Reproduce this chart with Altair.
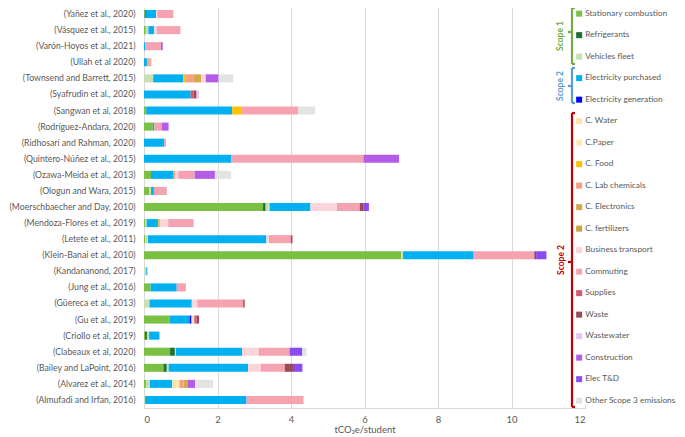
import altair as alt
import pandas as pd

FONT = "Lato, sans-serif"
TXT = "#595959"

studies = [
    "(Yañez et al., 2020)", "(Vásquez et al., 2015)", "(Varón-Hoyos et al., 2021)",
    "(Ullah et al 2020)", "(Townsend and Barrett, 2015)", "(Syafrudin et al., 2020)",
    "(Sangwan et al, 2018)", "(Rodríguez-Andara, 2020)", "(Ridhosari and Rahman, 2020)",
    "(Quintero-Núñez et al., 2015)", "(Ozawa-Meida et al., 2013)", "(Ologun and Wara, 2015)",
    "(Moerschbaecher and Day, 2010)", "(Mendoza-Flores et al., 2019)", "(Letete et al., 2011)",
    "(Klein-Banai et al., 2010)", "(Kandananond, 2017)", "(Jung et al., 2016)",
    "(Güereca et al., 2013)", "(Gu et al., 2019)", "(Criollo et al, 2019)",
    "(Clabeaux et al, 2020)", "(Bailey and LaPoint, 2016)", "(Alvarez et al., 2014)",
    "(Almufadi and Irfan, 2016)",
]

categories = [
    "Stationary combustion", "Refrigerants", "Vehicles fleet",
    "Electricity purchased", "Electricity generation",
    "C. Water", "C.Paper", "C. Food", "C. Lab chemicals", "C. Electronics",
    "C. fertilizers", "Business transport", "Commuting", "Supplies", "Waste",
    "Wastewater", "Construction", "Elec T&D", "Other Scope 3 emissions",
]

colors = [
    "#7ac143", "#1f6e34", "#c6e0b4", "#00b0f0", "#0000ff",
    "#fde3a7", "#fee8b4", "#ffc000", "#f4a07e", "#d4a84c",
    "#c9a23f", "#fbd5da", "#f5a3b0", "#d4586e", "#9b4a5a",
    "#e5c5f7", "#b35ce8", "#8b4bf2", "#e3e3e3",
]

# values per category, in the order of `studies`
stationary     = [0.02, 0.05, 0, 0, 0, 0, 0.06, 0.24, 0, 0, 0.19, 0.15, 3.24, 0.03, 0.03, 7.0, 0, 0.18, 0, 0.70, 0.03, 0.71, 0.53, 0.06, 0]
refrigerants   = [0.03, 0, 0, 0, 0, 0, 0, 0, 0, 0, 0, 0, 0.07, 0, 0, 0, 0, 0, 0, 0, 0.05, 0.13, 0.09, 0, 0]
vehicles       = [0, 0.07, 0, 0, 0.25, 0, 0, 0, 0, 0, 0, 0.04, 0.11, 0.04, 0.08, 0.05, 0.06, 0, 0.15, 0, 0.06, 0.03, 0.05, 0.10, 0.03]
elec_purchased = [0.28, 0.16, 0.03, 0.08, 0.82, 1.27, 2.34, 0.04, 0.55, 2.37, 0.60, 0.08, 1.11, 0.32, 3.22, 1.92, 0.03, 0.71, 1.15, 0.54, 0.28, 1.80, 2.16, 0.61, 2.76]
elec_generated = [0, 0, 0, 0, 0, 0, 0, 0, 0, 0, 0, 0, 0, 0, 0, 0, 0, 0, 0, 0.05, 0, 0, 0, 0, 0]
c_water        = [0, 0, 0, 0, 0, 0, 0, 0, 0, 0, 0, 0, 0, 0, 0, 0, 0, 0, 0, 0, 0, 0, 0, 0.10, 0]
c_paper        = [0, 0, 0, 0, 0, 0, 0, 0, 0, 0, 0, 0, 0, 0, 0, 0, 0, 0, 0, 0, 0, 0, 0, 0.09, 0]
c_food         = [0, 0, 0, 0.03, 0.05, 0, 0.26, 0, 0, 0, 0, 0, 0, 0.05, 0, 0, 0, 0, 0, 0.03, 0, 0, 0, 0, 0]
c_lab          = [0, 0, 0, 0.03, 0.23, 0, 0, 0, 0, 0, 0.06, 0, 0, 0, 0, 0, 0, 0, 0, 0, 0, 0, 0, 0.12, 0]
c_electronics  = [0, 0, 0, 0, 0.21, 0, 0, 0, 0, 0, 0, 0, 0, 0, 0, 0, 0, 0, 0, 0, 0, 0, 0, 0.11, 0]
c_fertilizers  = [0, 0, 0, 0, 0, 0, 0, 0, 0, 0, 0, 0, 0, 0, 0, 0, 0, 0, 0, 0, 0, 0, 0, 0, 0]
business       = [0.03, 0.06, 0, 0, 0.12, 0, 0, 0, 0, 0, 0.08, 0, 0.72, 0.22, 0.07, 0, 0, 0, 0.15, 0.05, 0, 0.45, 0.35, 0, 0]
commuting      = [0.44, 0.65, 0.43, 0.06, 0, 0, 1.53, 0.20, 0.05, 3.60, 0.45, 0.35, 0.62, 0.69, 0.60, 1.65, 0, 0.25, 1.25, 0, 0, 0.84, 0.65, 0, 1.55]
supplies       = [0, 0, 0, 0, 0, 0.08, 0, 0, 0, 0, 0, 0, 0, 0, 0, 0, 0, 0, 0, 0.06, 0, 0, 0, 0, 0]
waste          = [0, 0, 0, 0, 0, 0.08, 0, 0, 0, 0, 0, 0, 0.11, 0, 0.04, 0.05, 0, 0, 0.04, 0.07, 0, 0, 0.25, 0, 0]
wastewater     = [0, 0, 0, 0, 0, 0.06, 0, 0, 0, 0, 0, 0, 0, 0, 0, 0, 0, 0, 0, 0, 0, 0, 0, 0, 0]
construction   = [0, 0, 0.05, 0, 0.35, 0, 0, 0.19, 0, 0.97, 0.55, 0, 0, 0, 0, 0, 0, 0, 0, 0, 0, 0, 0, 0.20, 0]
elec_td        = [0, 0, 0, 0, 0, 0, 0, 0, 0, 0, 0, 0, 0.14, 0, 0, 0.28, 0, 0, 0, 0, 0, 0.35, 0.23, 0, 0]
other_s3       = [0, 0, 0, 0, 0.40, 0, 0.47, 0, 0, 0, 0.44, 0, 0, 0, 0, 0, 0, 0, 0, 0, 0, 0.11, 0, 0.49, 0]

series = [stationary, refrigerants, vehicles, elec_purchased, elec_generated,
          c_water, c_paper, c_food, c_lab, c_electronics, c_fertilizers,
          business, commuting, supplies, waste, wastewater, construction,
          elec_td, other_s3]

rows = []
for ci, (cat, vals) in enumerate(zip(categories, series)):
    for s, v in zip(studies, vals):
        if v > 0:
            rows.append({"study": s, "category": cat, "value": v, "order": ci})
df = pd.DataFrame(rows)

bars = alt.Chart(df).mark_bar().encode(
    x=alt.X("value:Q", stack="zero",
            scale=alt.Scale(domain=[0, 12], nice=False),
            axis=alt.Axis(values=[0, 2, 4, 6, 8, 10, 12], title="tCO₂e/student",
                          grid=True, gridColor="#d9d9d9", ticks=False,
                          domainColor="#d9d9d9", labelColor=TXT, labelFont=FONT,
                          labelFontSize=9.5, labelPadding=6,
                          titleFont=FONT, titleFontSize=9.5, titleColor=TXT,
                          titleFontWeight="normal", titlePadding=1,
                          titleAnchor="middle")),
    y=alt.Y("study:N", sort=studies,
            scale=alt.Scale(paddingInner=0.5, paddingOuter=0.25),
            axis=alt.Axis(title=None, ticks=False, domain=False, grid=False,
                          labelColor=TXT, labelFont=FONT, labelFontSize=8.7,
                          labelPadding=9, labelLimit=200)),
    color=alt.Color("category:N",
                    scale=alt.Scale(domain=categories, range=colors),
                    legend=alt.Legend(title=None, orient="none", legendX=431, legendY=3.5,
                                      direction="vertical", symbolType="square",
                                      symbolSize=36, symbolStrokeWidth=0,
                                      labelFont=FONT, labelFontSize=8.3,
                                      labelColor=TXT, labelOffset=2,
                                      rowPadding=12.5, padding=0, fillColor="white",
                                      labelLimit=200)),
    order=alt.Order("order:Q", sort="ascending"),
)

one = pd.DataFrame({"k": [0]})


def seg(x, x2, y, y2, color, w=2.2):
    return alt.Chart(one).mark_rule(color=color, strokeWidth=w).encode(
        x=alt.value(x), x2=alt.value(x2), y=alt.value(y), y2=alt.value(y2))


def bracket(x, top, bottom, mid, color):
    return [
        seg(x, x, top, bottom, color),
        seg(x, x + 3, top, top, color),
        seg(x, x + 3, bottom, bottom, color),
        seg(x - 4, x, mid, mid, color),
    ]


def label(text, x, y, color):
    return alt.Chart(one).mark_text(
        text=text, angle=270, font=FONT, fontSize=8.5, fontWeight="bold",
        color=color, align="center", baseline="middle").encode(
        x=alt.value(x), y=alt.value(y))


green, blue, red = "#70ad47", "#5b9bd5", "#c00000"
layers = [bars]
layers += bracket(428, 2, 58, 26, green)
layers += bracket(428, 62, 97, 80, blue)
layers += bracket(428, 107, 401, 256, red)
layers += [label("Scope 1", 416, 30, green),
           label("Scope 2", 416, 80, blue),
           label("Scope 2", 417, 254, red)]

chart = alt.layer(*layers).properties(
    width=441, height=402,
    padding={"left": 136, "top": -2, "right": 92, "bottom": 30},
    autosize=alt.AutoSizeParams(type="none"),
).configure_view(stroke=None).configure(font=FONT)

chart.save("out.html", embed_options={"renderer": "svg", "actions": False})
